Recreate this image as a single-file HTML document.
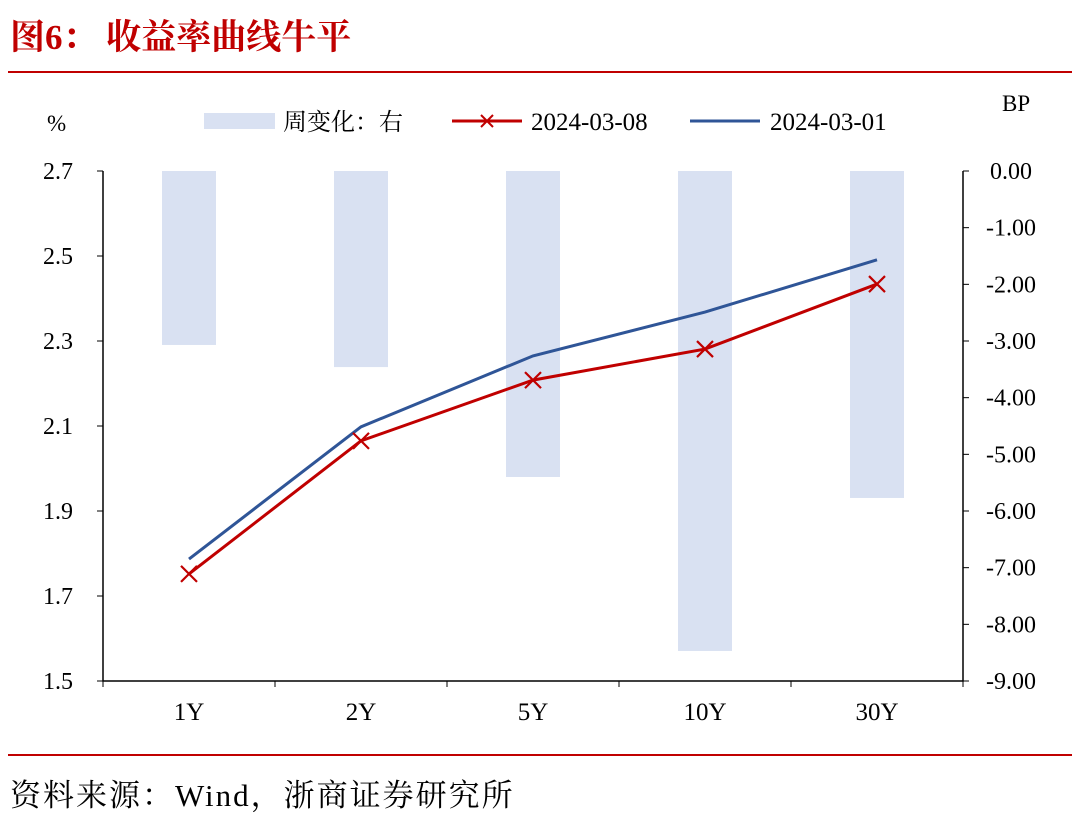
<!DOCTYPE html>
<html><head><meta charset="utf-8"><style>
body{margin:0;background:#fff;width:1080px;height:821px;overflow:hidden;font-family:"Liberation Serif","Noto Serif CJK SC",serif;}
</style></head><body>
<svg width="1080" height="821" xmlns="http://www.w3.org/2000/svg">
<text x="10" y="49" font-size="35" fill="#c00000" font-weight="bold" font-family="Liberation Serif, Noto Serif CJK SC, serif">图6：  收益率曲线牛平</text>
<line x1="8" y1="72" x2="1072" y2="72" stroke="#c00000" stroke-width="2"/>
<line x1="8" y1="755" x2="1072" y2="755" stroke="#c00000" stroke-width="2"/>
<text x="10" y="806" font-size="31" letter-spacing="2" fill="#000" font-family="Liberation Serif, Noto Serif CJK SC, serif">资料来源：Wind，浙商证券研究所</text>
<text x="47" y="131" font-size="23">%</text>
<text x="1002" y="111" font-size="23">BP</text>
<g>
<rect x="204" y="113" width="71" height="16" fill="#d9e1f2"/>
<text x="283" y="130" font-size="24" font-family="Liberation Serif, Noto Serif CJK SC, serif">周变化：右</text>
<line x1="452" y1="121" x2="522" y2="121" stroke="#c00000" stroke-width="3"/>
<path d="M481 115l12 12M493 115l-12 12" stroke="#c00000" stroke-width="2"/>
<text x="531" y="130" font-size="25">2024-03-08</text>
<line x1="690" y1="121" x2="760" y2="121" stroke="#2f5597" stroke-width="3"/>
<text x="770" y="130" font-size="25">2024-03-01</text>
</g>
<g id="plot"></g>
</svg>
<script>
const categories=["1Y","2Y","5Y","10Y","30Y"];
const weeklyChange=[-3.07,-3.46,-5.40,-8.47,-5.77];
const yield0308=[1.752,2.065,2.208,2.281,2.434];
const yield0301=[1.787,2.098,2.265,2.368,2.491];
const leftTicks=["2.7","2.5","2.3","2.1","1.9","1.7","1.5"];
const rightTicks=["0.00","-1.00","-2.00","-3.00","-4.00","-5.00","-6.00","-7.00","-8.00","-9.00"];
const NS="http://www.w3.org/2000/svg";
const g=document.getElementById('plot');
const X0=103,X1=963,Y0=171,Y1=681;
const band=(X1-X0)/categories.length;
const xc=i=>X0+band*(i+0.5);
const yL=v=>Y0+(2.7-v)/(2.7-1.5)*(Y1-Y0);
const yR=v=>Y0+(0-v)/9*(Y1-Y0);
function el(t,a){const e=document.createElementNS(NS,t);for(const k in a)e.setAttribute(k,a[k]);g.appendChild(e);return e;}
weeklyChange.forEach((v,i)=>{const b=el('rect',{x:xc(i)-27,y:yR(0),width:54,height:yR(v)-yR(0),fill:'#d9e1f2'});

});
let ax=el('path',{d:`M${X0} ${Y0}V${Y1}H${X1}V${Y0}`,stroke:'#000','stroke-width':1.5,fill:'none'});


leftTicks.forEach((t,i)=>{const y=Y0+i*(Y1-Y0)/(leftTicks.length-1);
el('line',{x1:X0-6,x2:X0,y1:y,y2:y,stroke:'#000'});
const tx=el('text',{x:X0-30,y:y+8,'font-size':24,'text-anchor':'end'});tx.textContent=t;

});
rightTicks.forEach((t,i)=>{const y=Y0+i*(Y1-Y0)/(rightTicks.length-1);
el('line',{x1:X1,x2:X1+6,y1:y,y2:y,stroke:'#000'});
const tx=el('text',{x:X1+48,y:y+8,'font-size':24,'text-anchor':'middle'});tx.textContent=t;

});
for(let i=0;i<=categories.length;i++){const x=X0+i*band;el('line',{x1:x,x2:x,y1:Y1,y2:Y1+6,stroke:'#000'});}
categories.forEach((c,i)=>{const tx=el('text',{x:xc(i),y:Y1+39,'font-size':25,'text-anchor':'middle'});tx.textContent=c;

});
const l1=el('polyline',{points:yield0301.map((v,i)=>xc(i)+','+yL(v)).join(' '),stroke:'#2f5597','stroke-width':3,fill:'none'});


const l2=el('polyline',{points:yield0308.map((v,i)=>xc(i)+','+yL(v)).join(' '),stroke:'#c00000','stroke-width':3,fill:'none'});


yield0308.forEach((v,i)=>{const x=xc(i),y=yL(v);
const m=el('path',{d:`M${x-8} ${y-8}l16 16M${x+8} ${y-8}l-16 16`,stroke:'#c00000','stroke-width':2.2});

});
</script>
</body></html>
